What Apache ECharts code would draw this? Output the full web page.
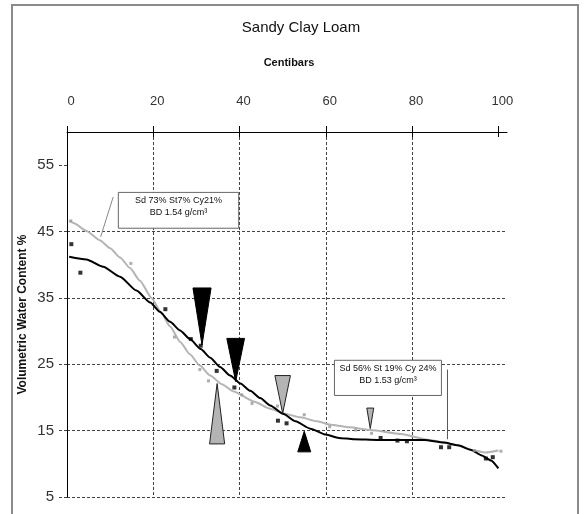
<!DOCTYPE html>
<html><head><meta charset="utf-8">
<script src="https://cdn.jsdelivr.net/npm/echarts@6/dist/echarts.min.js"></script>
<style>html,body{margin:0;padding:0;background:#fff}#c{width:584px;height:514px}</style>
</head><body><div id="c"></div>
<script>
// ---- data ----
const titleText = 'Sandy Clay Loam';
const xAxisTitle = 'Centibars';
const yAxisTitle = 'Volumetric Water Content %';
const xTicks = [0, 20, 40, 60, 80, 100];
const yTicks = [5, 15, 25, 35, 45, 55];

// fitted curves [centibars, VWC%]
const blackCurve = [[0.5,41.2],[4.5,40.8],[8.4,39.7],[12.3,38.2],[16.1,36.1],[19.3,34.3],[21.5,32.9],[23.9,31.4],[26.2,30.1],[28.5,28.8],[31,27.3],[33.2,26.0],[35.5,24.6],[37.8,23.3],[40.2,22.1],[42.5,21.0],[44.8,19.9],[47.1,18.8],[50.2,17.5],[53,16.4],[56.4,15.3],[60,14.4],[63,13.9],[66.5,13.7],[72,13.6],[77.4,13.6],[82.8,13.6],[87.4,13.2],[90.6,12.8],[93.7,12.1],[96,11.3],[98.3,10.5],[100,9.3]];
const grayCurve = [[0.5,46.6],[1.5,46.3],[4.5,45.1],[7.6,43.7],[10,42.5],[12.3,41.1],[14.6,39.5],[16.9,37.6],[19.6,35.0],[21.8,32.8],[23.9,30.7],[26.2,28.4],[28.5,26.5],[30.8,24.8],[33.2,23.3],[35.9,22.0],[38.6,20.9],[43.3,19.4],[47.1,18.3],[50.2,17.6],[54.1,17.0],[58,16.4],[61.1,15.9],[65.5,15.5],[70.4,15.1],[77.4,14.5],[84,13.6],[90.6,12.8],[94.4,12.0],[97,11.7],[100,12.0]];

// measured points
const blackPoints = [[1.0,43.1],[3.1,38.8],[22.8,33.3],[28.7,28.8],[31.0,27.8],[34.7,24.0],[38.8,21.5],[48.9,16.5],[50.9,16.1],[72.7,13.9],[76.6,13.5],[78.8,13.4],[86.7,12.5],[88.6,12.5],[97.1,10.8],[98.7,11.0]];
const grayPoints = [[0.9,46.6],[14.8,40.2],[24.9,29.1],[30.8,24.2],[32.8,22.5],[40.5,20.4],[42.9,19.1],[48.8,18.7],[55.0,17.4],[60.9,15.6],[66.9,15.1],[70.6,14.6],[94.4,12.0],[100.6,11.9]];

// wedge markers [x, baseY, tipY]
const blackWedges = [[31.3,36.5,27.9],[39.1,28.9,22.4],[55.0,11.8,14.9]];
const grayWedges = [[34.8,13.0,22.1],[50.0,23.3,17.6],[70.3,18.4,15.3]];

// annotations
const label1 = ['Sd 73% St7% Cy21%', 'BD 1.54 g/cm³'];
const label2 = ['Sd 56% St 19% Cy 24%', 'BD 1.53 g/cm³'];

// ---- styles ----
const blackWedgeHalfW = [2.1, 2.05, 1.5];
const grayWedgeHalfW = [1.75, 1.8, 0.8];
const box1 = {a:[11.9,50.9], b:[39.8,45.5], l1:[10.7,50.2], l2:[7.8,44.2]};
const box2 = {a:[62.0,25.6], b:[86.8,20.3], l1:[88.2,24.2], l2:[88.2,13.7]};

const gridColor = '#444';
const font = 'Arial, "Liberation Sans", sans-serif';

function wedgeSeries(data, halfW, fill, stroke) {
  return {
    type: 'custom', xAxisIndex: 0, yAxisIndex: 0, z: 5,
    data: data.map((d, i) => [d[0], d[1], d[2], i]),
    renderItem: function (params, api) {
      const x = api.value(0), b = api.value(1), t = api.value(2), i = api.value(3);
      const hw = halfW[i];
      const p1 = api.coord([x - hw, b]);
      const p2 = api.coord([x + hw, b]);
      const p3 = api.coord([x, t]);
      return { type: 'polygon', shape: { points: [p1, p2, p3] },
        style: { fill: fill, stroke: stroke, lineWidth: 1 } };
    }
  };
}

const chart = echarts.init(document.getElementById('c'), null, {renderer: 'canvas'});
const option = {
  backgroundColor: '#fff',
  animation: false,
  grid: { left: 67, top: 132, width: 440, height: 365 },
  xAxis: [{
    type: 'value', position: 'top', min: 0, max: 102, interval: 20,
    axisLine: { show: true, lineStyle: { color: '#000', width: 1 } },
    axisTick: { show: true, length: 6, customValues: xTicks, lineStyle: { color: '#000' } },
    axisLabel: { customValues: xTicks, margin: 24, color: '#333', fontSize: 13, fontFamily: font, padding: [0,0,0,8] },
    splitLine: { show: true, showMinLine: false, showMaxLine: false, lineStyle: { color: gridColor, type: [3, 2], width: 1 } }
  }, {
    type: 'value', position: 'top', min: 0, max: 102, interval: 20, gridIndex: 0,
    axisLine: { show: false },
    axisTick: { show: true, inside: true, length: 5, customValues: xTicks, lineStyle: { color: '#000' } },
    axisLabel: { show: false },
    splitLine: { show: false }
  }],
  yAxis: {
    type: 'value', min: 5, max: 60, interval: 10,
    name: yAxisTitle, nameLocation: 'middle', nameGap: 38, nameRotate: 90, nameMoveOverlap: false,
    nameTextStyle: { fontSize: 12, fontWeight: 'bold', color: '#111', fontFamily: font },
    axisLine: { show: true, lineStyle: { color: '#000', width: 1 } },
    axisTick: { show: true, length: 9, customValues: yTicks, lineStyle: { color: gridColor, type: [3, 2] } },
    axisLabel: { customValues: yTicks, margin: 13, color: '#333', fontSize: 15, fontFamily: font },
    splitLine: { show: true, showMaxLine: false, lineStyle: { color: gridColor, type: [3, 2], width: 1 } }
  },
  series: [
    { type: 'line', data: grayCurve, smooth: 0.2, smoothMonotone: 'x', showSymbol: false, lineStyle: { color: '#b4b4b4', width: 2 }, z: 2 },
    { type: 'line', data: blackCurve, smooth: 0.2, smoothMonotone: 'x', showSymbol: false, lineStyle: { color: '#000', width: 2 }, z: 3 },
    { type: 'scatter', data: grayPoints, symbol: 'rect', symbolSize: 3, itemStyle: { color: '#999' }, z: 4 },
    { type: 'scatter', data: blackPoints, symbol: 'rect', symbolSize: 4, itemStyle: { color: '#000' }, z: 4 },
    wedgeSeries(blackWedges, blackWedgeHalfW, '#000', '#000'),
    wedgeSeries(grayWedges, grayWedgeHalfW, '#b4b4b4', '#222')
  ]
};
chart.setOption(option);

function px(p) { return chart.convertToPixel({xAxisIndex: 0, yAxisIndex: 0}, p); }
function boxGraphics(box, lines, lineColor) {
  const a = px(box.a), b = px(box.b), l1 = px(box.l1), l2 = px(box.l2);
  const cx = (a[0] + b[0]) / 2;
  return [
    { type: 'line', shape: { x1: l1[0], y1: l1[1], x2: l2[0], y2: l2[1] }, style: { stroke: lineColor, lineWidth: 1 }, z: 20 },
    { type: 'rect', shape: { x: a[0], y: a[1], width: b[0] - a[0], height: b[1] - a[1] }, style: { fill: '#fff', stroke: '#666', lineWidth: 1 }, z: 21 },
    { type: 'text', x: cx, y: a[1] + 8, style: { text: lines[0], fill: '#111', font: '9px ' + font, align: 'center', verticalAlign: 'middle' }, z: 22 },
    { type: 'text', x: cx, y: a[1] + 20, style: { text: lines[1], fill: '#111', font: '9px ' + font, align: 'center', verticalAlign: 'middle' }, z: 22 }
  ];
}
chart.setOption({
  graphic: [
    { type: 'rect', shape: { x: 12, y: 5, width: 566, height: 520 }, style: { fill: null, stroke: '#8a8a8a', lineWidth: 2 }, z: 0, silent: true },
    { type: 'text', x: 301, y: 28, style: { text: titleText, fill: '#111', font: '15px ' + font, align: 'center', verticalAlign: 'middle' } },
    { type: 'text', x: 289, y: 63, style: { text: xAxisTitle, fill: '#111', font: 'bold 11px ' + font, align: 'center', verticalAlign: 'middle' } }
  ].concat(boxGraphics(box1, label1, '#888'), boxGraphics(box2, label2, '#555'))
});
</script>
</body></html>
